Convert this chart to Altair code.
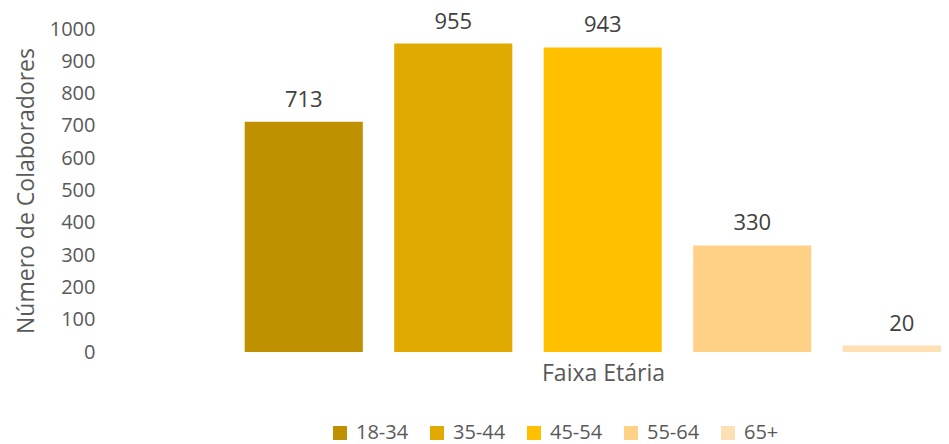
import altair as alt
import pandas as pd

categories = ["18-34", "35-44", "45-54", "55-64", "65+"]
values = [713, 955, 943, 330, 20]
colors = ["#BF9000", "#E0AA00", "#FFC000", "#FED186", "#FFE0B5"]
y_ticks = [0, 100, 200, 300, 400, 500, 600, 700, 800, 900, 1000]

df = pd.DataFrame({"faixa": categories, "n": values})

FONT = "Open Sans"
GRAY = "#595959"

x = alt.X(
    "faixa:N",
    sort=categories,
    scale=alt.Scale(range=[0, 747.5], paddingInner=0.21, paddingOuter=0.105),
    axis=alt.Axis(
        labels=False, ticks=False, domain=False, title="Faixa Etária",
        titleFont=FONT, titleFontSize=23, titleFontWeight="normal", titleColor=GRAY,
        titleX=374, titleY=10, titleBaseline="top", titleAnchor="middle", titleAlign="center",
    ),
)
y = alt.Y(
    "n:Q",
    scale=alt.Scale(domain=[0, 1000], nice=False),
    axis=alt.Axis(
        values=y_ticks, format="d", labelOverlap=False, grid=False, domain=False,
        ticks=False, tickSize=0, labelPadding=0, offset=134,
        labelFont=FONT, labelFontSize=20, labelColor=GRAY,
        title="Número de Colaboradores", titleFont=FONT, titleFontSize=23,
        titleFontWeight="normal", titleColor=GRAY, titlePadding=11,
    ),
)

base = alt.Chart(df).encode(x=x, y=y)

bars = base.mark_bar().encode(
    color=alt.Color(
        "faixa:N",
        sort=categories,
        scale=alt.Scale(domain=categories, range=colors),
        legend=alt.Legend(
            title=None, orient="none", direction="horizontal",
            legendX=101, legendY=394,
            symbolType="square", symbolSize=196, symbolStrokeWidth=0,
            labelFont=FONT, labelFontSize=20, labelColor=GRAY,
            labelOffset=6, columnPadding=18,
        ),
    ),
)

labels = base.mark_text(
    font=FONT, fontSize=22, color="#404040", baseline="alphabetic", dy=-15
).encode(
    text=alt.Text("n:Q"),
)

chart = (
    alt.layer(bars, labels)
    .properties(
        width=712,
        height=323,
        autosize=alt.AutoSizeParams(type="none"),
        padding={"left": 221, "top": 21, "right": 0, "bottom": 92},
    )
    .configure_view(stroke=None)
    .configure_axis(labelOverlap=False)
)

chart.save("out.html", embed_options={"renderer": "svg", "actions": False})
